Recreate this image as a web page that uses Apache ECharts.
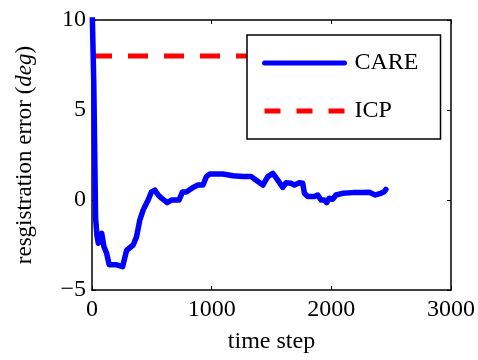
<!DOCTYPE html>
<html>
<head>
<meta charset="utf-8">
<script src="https://cdn.jsdelivr.net/npm/echarts@6/dist/echarts.min.js"></script>
<style>
  html, body {margin: 0; padding: 0; background: #fff;}
  #main {width: 478px; height: 360px;}
</style>
</head>
<body>
<div id="main"></div>
<script>
// 时间步与误差数据
const careSteps = [0, 15, 30, 42, 53, 81, 100, 122, 144, 206, 256, 289, 344, 372, 400, 428, 469, 497, 525, 553, 581, 628, 664, 728, 756, 789, 844, 886, 928, 956, 983, 1094, 1178, 1261, 1331, 1372, 1428, 1469, 1511, 1553, 1594, 1622, 1664, 1692, 1733, 1761, 1775, 1803, 1858, 1886, 1914, 1942, 1961, 1983, 2011, 2039, 2094, 2178, 2261, 2317, 2367, 2414, 2442, 2456];
const careError = [11, 6.5, -1.0, -2.0, -2.4, -1.85, -2.6, -2.95, -3.6, -3.6, -3.7, -2.8, -2.5, -2.05, -1.1, -0.55, 0, 0.45, 0.55, 0.28, 0.1, -0.15, 0, 0, 0.45, 0.45, 0.7, 0.83, 0.83, 1.3, 1.44, 1.44, 1.35, 1.3, 1.3, 1.1, 0.83, 1.3, 1.48, 1.1, 0.7, 0.96, 0.93, 0.83, 0.96, 0.93, 0.37, 0.19, 0.19, 0.28, 0, 0, -0.15, 0.1, 0.04, 0.28, 0.37, 0.41, 0.41, 0.43, 0.28, 0.37, 0.46, 0.59];
const icpSteps = [0, 2460];
const icpError = [8, 8];
const xTicks = [0, 1000, 2000, 3000];
const yTicks = [-5, 0, 5, 10];

const FONT = 'Liberation Serif';

/**
 * 组合成坐标点
 */
const toPairs = (xs, ys) => xs.map((x, i) => [x, ys[i]]);

// 负号用 U+2212，不加千分位
const tickFmt = (v) => String(v).replace('-', '\u2212');

const boxAxis = {
  axisLine: {show: true, onZero: false, lineStyle: {color: '#000', width: 1.5}},
  axisTick: {show: true, inside: true, length: 4, lineStyle: {color: '#000'}},
  splitLine: {show: false}
};

const option = {
  animation: false,
  backgroundColor: '#fff',
  textStyle: {fontFamily: FONT},
  grid: {left: 92, right: 27, top: 20, bottom: 70, show: false},
  legend: {
    orient: 'vertical',
    left: 247,
    top: 35,
    padding: [16, 22, 16, 15],
    itemGap: 24,
    itemWidth: 80,
    itemHeight: 22,
    backgroundColor: '#fff',
    borderColor: '#000',
    borderWidth: 1.5,
    borderRadius: 0,
    textStyle: {fontFamily: FONT, fontSize: 24, color: '#000', padding: [0, 0, 0, 5]},
    data: [
      {name: 'CARE', itemStyle: {opacity: 0}, lineStyle: {width: 5}},
      {name: 'ICP', itemStyle: {opacity: 0}, lineStyle: {width: 5, type: [16, 16]}}
    ]
  },
  xAxis: [{
    type: 'value',
    min: 0, max: 3000, interval: 1000,
    name: 'time step',
    nameLocation: 'middle',
    nameGap: 40,
    nameTextStyle: {fontFamily: FONT, fontSize: 24, color: '#000'},
    ...boxAxis,
    axisLabel: {fontFamily: FONT, fontSize: 24, color: '#000', margin: 8, formatter: tickFmt}
  }, {
    type: 'value',
    position: 'top',
    min: 0, max: 3000, interval: 1000,
    ...boxAxis,
    axisLabel: {show: false}
  }],
  yAxis: [{
    type: 'value',
    min: -5, max: 10, interval: 5,
    name: '{n|resgistration error (}{i|deg}{n|)}',
    nameLocation: 'middle',
    nameGap: 56,
    nameTextStyle: {
      rich: {
        n: {fontFamily: FONT, fontSize: 23, color: '#000'},
        i: {fontFamily: FONT, fontSize: 23, fontStyle: 'italic', color: '#000'}
      }
    },
    ...boxAxis,
    axisLabel: {fontFamily: FONT, fontSize: 24, color: '#000', margin: 6, formatter: tickFmt}
  }, {
    type: 'value',
    position: 'right',
    min: -5, max: 10, interval: 5,
    ...boxAxis,
    axisLabel: {show: false}
  }],
  series: [{
    name: 'CARE',
    type: 'line',
    xAxisIndex: 0,
    yAxisIndex: 0,
    showSymbol: false,
    symbol: 'none',
    clip: true,
    data: toPairs(careSteps, careError),
    color: '#0000ff',
    lineStyle: {color: '#0000ff', width: 5.5, join: 'round', cap: 'round'},
    z: 3
  }, {
    name: 'ICP',
    type: 'line',
    xAxisIndex: 0,
    yAxisIndex: 0,
    showSymbol: false,
    symbol: 'none',
    data: toPairs(icpSteps, icpError),
    color: '#ff0000',
    lineStyle: {color: '#ff0000', width: 5, type: [20, 16]},
    z: 2
  }]
};

const myChart = echarts.init(document.getElementById('main'));
myChart.setOption(option);
</script>
</body>
</html>
